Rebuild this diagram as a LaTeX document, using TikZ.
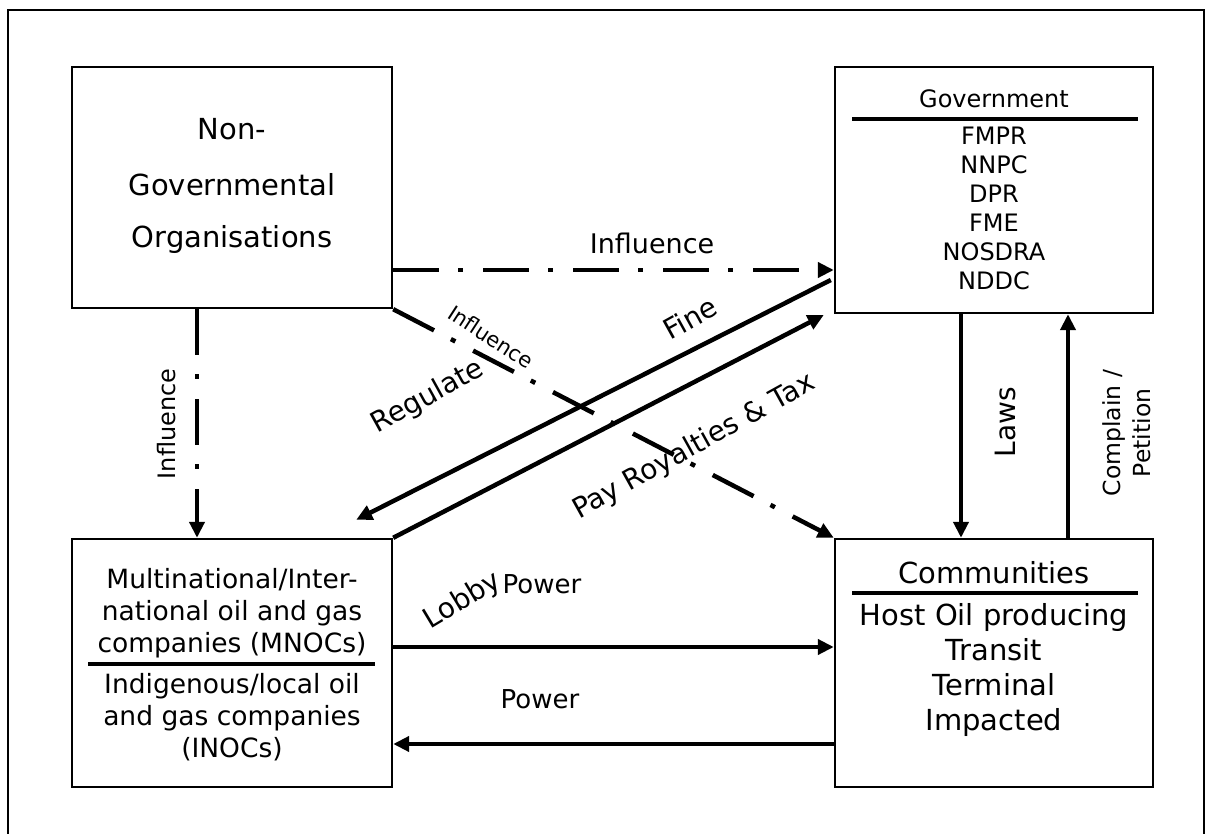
\documentclass[tikz,border=0pt]{standalone}
\usepackage{fontspec}
\setmainfont{DejaVu Sans}
\usetikzlibrary{arrows.meta}
\newcommand\fsz[1]{\fontsize{#1}{#1}\selectfont}

\begin{document}
\begin{tikzpicture}[x=1pt,y=-1pt,
  box/.style={draw, line width=2.4pt, inner sep=0pt},
  txt/.style={inner sep=0pt, anchor=base},
  lbl/.style={inner sep=0pt},
  rulebar/.style={line width=3.6pt},
  flow/.style={line width=4.5pt, -{Triangle[length=16pt,width=15pt]}},
  infl/.style={flow, dash pattern=on 46pt off 19pt on 5pt off 20pt}]

\useasboundingbox (0,0) rectangle (1208,834);
% outer frame (runs off the lower edge)
\draw[line width=2.6pt] (8,840) -- (8,10) -- (1204,10) -- (1204,840);

% the four actor boxes
\node[box, minimum width=320pt, minimum height=241pt] (ngo)  at (232,187.5) {};
\node[box, minimum width=318pt, minimum height=246pt] (gov)  at (994,190)   {};
\node[box, minimum width=320pt, minimum height=248pt] (mnoc) at (232,663)   {};
\node[box, minimum width=318pt, minimum height=248pt] (comm) at (994,663)   {};

% NGO text
\node[txt, font=\fsz{29}] (ngo-1) at (232,140) {Non-};
\node[txt, font=\fsz{29}] (ngo-2) at (232,196) {Governmental};
\node[txt, font=\fsz{29}] (ngo-3) at (232,248) {Organisations};

% Government text
\node[txt, font=\fsz{24}] (gov-t) at (994,108) {Government};
\coordinate (gov-rl) at (852,119);
\coordinate (gov-rr) at (1138,119);
\draw[rulebar] (gov-rl) -- (gov-rr);
\foreach \t [count=\i] in {FMPR,NNPC,DPR,FME,NOSDRA,NDDC}
  \node[txt, font=\fsz{24}] (gov-\i) at (994,{116+29*\i}) {\t};

% Communities text
\node[txt, font=\fsz{29}] (comm-t) at (994,583) {Communities};
\coordinate (comm-rl) at (852,593);
\coordinate (comm-rr) at (1138,593);
\draw[rulebar] (comm-rl) -- (comm-rr);
\foreach \t [count=\i] in {Host Oil producing,Transit,Terminal,Impacted}
  \node[txt, font=\fsz{29}] (comm-\i) at (994,{590+35*\i}) {\t};

% Companies text
\foreach \t [count=\i] in {Multinational/Inter-,national oil and gas,companies (MNOCs)}
  \node[txt, font=\fsz{26.5}] (mn-\i) at (232,{556+32*\i}) {\t};
\coordinate (mn-rl) at (88,664);
\coordinate (mn-rr) at (375,664);
\draw[rulebar] (mn-rl) -- (mn-rr);
\foreach \t [count=\i] in {Indigenous/local oil,and gas companies,(INOCs)}
  \node[txt, font=\fsz{26.5}] (in-\i) at (232,{661+32*\i}) {\t};

% influence of the NGOs
\draw[infl] ([yshift=-82.5pt]ngo.east) -- ([yshift=-80pt]gov.west);
\draw[infl] ([xshift=-35pt]ngo.south) -- ([xshift=-35pt]mnoc.north);
\draw[infl] (ngo.south east) -- (comm.north west);
\node[lbl, font=\fsz{27}] (l-inf1) at (652,243) {Influence};
\node[lbl, rotate=90, font=\fsz{24}] (l-inf2) at (167,424) {Influence};
\node[lbl, rotate=-33, font=\fsz{21}] (l-inf3) at (491,337) {Influence};

% government and companies
\coordinate (reg-tip) at ([xshift=-37pt,yshift=18pt]mnoc.north east);
\draw[flow] ([xshift=-3pt,yshift=-90pt]gov.west) -- (reg-tip);
\draw[flow] (mnoc.north east) -- ([xshift=-10pt,yshift=-125pt]gov.west);
\node[lbl, rotate=29, font=\fsz{28}] (l-fine) at (690,318) {Fine};
\node[lbl, rotate=29, font=\fsz{28}] (l-reg)  at (428,397) {Regulate};
\node[lbl, rotate=29, font=\fsz{28}] (l-pay)  at (694,447) {Pay Royalties \& Tax};
\node[lbl, rotate=31, font=\fsz{28}] (l-lob)  at (463,601) {Lobby};

% government and communities
\draw[flow] ([xshift=-33pt]gov.south) -- ([xshift=-33pt]comm.north);
\draw[flow] ([xshift=74pt]comm.north) -- ([xshift=74pt]gov.south);
\node[lbl, rotate=90, font=\fsz{28}] (l-laws) at (1005,422) {Laws};
\node[lbl, rotate=90, align=center, font={\fontsize{23.5}{30}\selectfont}]
  (l-comp) at (1127,433) {Complain /\\Petition};

% companies and communities
\draw[flow] ([yshift=16pt]mnoc.east) -- ([yshift=16pt]comm.west);
\draw[flow] ([yshift=-81pt]comm.west) -- ([yshift=-81pt]mnoc.east);
\node[txt, font=\fsz{26}] (l-pow1) at (542,593) {Power};
\node[txt, font=\fsz{26}] (l-pow2) at (540,708) {Power};
\end{tikzpicture}
\end{document}
